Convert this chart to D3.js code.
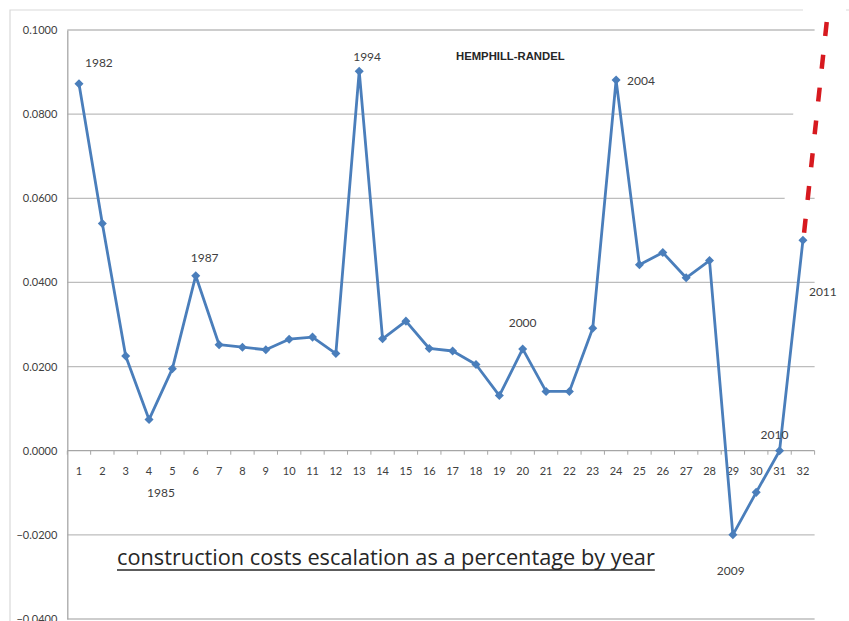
<!DOCTYPE html>
<html>
<head>
<meta charset="utf-8">
<script src="https://cdn.jsdelivr.net/npm/d3@7"></script>
<style>
  html, body { margin: 0; padding: 0; background: #fff; }
  svg { display: block; font-family: Lato, "Open Sans", sans-serif; }
</style>
</head>
<body>
<svg id="chart" width="849" height="621"></svg>
<script>
// Annual escalation index, points 1..32 (1982..2011)
const periods = d3.range(1, 33);
const escalation = [
  0.0872, 0.0540, 0.0225, 0.0074, 0.0195, 0.0416, 0.0252, 0.0246, 0.0240, 0.0265,
  0.0270, 0.0231, 0.0902, 0.0266, 0.0308, 0.0243, 0.0237, 0.0205, 0.0131, 0.0242,
  0.0141, 0.0141, 0.0291, 0.0881, 0.0442, 0.0471, 0.0411, 0.0452, -0.0200, -0.0099,
  0.0000, 0.0500
];
const yTicks = [0.10, 0.08, 0.06, 0.04, 0.02, 0.00, -0.02, -0.04];

// Year callouts: period, year text, placement
const callouts = [
  { p: 1,  text: "1982", dx: 6,   dy: -17 },
  { p: 4,  text: "1985", dx: -2,  dy: 77 },
  { p: 6,  text: "1987", dx: -5,  dy: -14 },
  { p: 13, text: "1994", dx: -6,  dy: -10 },
  { p: 20, text: "2000", dx: -14, dy: -22 },
  { p: 24, text: "2004", dx: 11,  dy: 5 },
  { p: 29, text: "2009", dx: -16, dy: 40 },
  { p: 31, text: "2010", dx: -19, dy: -12 },
  { p: 32, text: "2011", dx: 6,   dy: 56 }
];
// Projected continuation beyond the last point
const projection = [ { p: 32.05, v: 0.0518 }, { p: 33.05, v: 0.1035 } ];

const svg = d3.select("#chart");
const plotLeft = 67.3, plotRight = 814.6, plotTop = 30, plotBottom = 619;

const x = d3.scaleLinear().domain([0.5, 32.5]).range([plotLeft, plotRight]);
const y = d3.scaleLinear().domain([-0.04, 0.10]).range([plotBottom, plotTop]);

// outer frame
svg.append("path")
  .attr("d", `M10,621 L10,10 L803,10 M846,10 L849,10`)
  .attr("fill", "none").attr("stroke", "#d9d9d9").attr("stroke-width", 1.2);

// horizontal gridlines
svg.append("g").selectAll("line").data(yTicks.filter(d => d !== 0)).join("line")
  .attr("x1", plotLeft).attr("x2", plotRight)
  .attr("y1", d => y(d)).attr("y2", d => y(d))
  .attr("stroke", "#bdbdbd").attr("stroke-width", 1.3);

// value axis
const yAxis = svg.append("g").attr("transform", `translate(${plotLeft},0)`)
  .call(d3.axisLeft(y).tickValues(yTicks).tickFormat(d3.format(".4f")).tickSize(0).tickPadding(10));
yAxis.select(".domain").attr("stroke", "#a6a6a6").attr("stroke-width", 1.3);
yAxis.selectAll("text").attr("font-size", 11).attr("fill", "#404040")
  .attr("font-family", "Lato, sans-serif");

// category axis on the zero line
const xAxisG = svg.append("g").attr("transform", `translate(0,${y(0)})`);
xAxisG.append("line").attr("x1", plotLeft).attr("x2", plotRight)
  .attr("stroke", "#a6a6a6").attr("stroke-width", 1.3);
xAxisG.selectAll(".tk").data(d3.range(0, 33)).join("line")
  .attr("class", "tk")
  .attr("x1", d => x(d + 0.5)).attr("x2", d => x(d + 0.5))
  .attr("y1", 0).attr("y2", 4)
  .attr("stroke", "#a6a6a6").attr("stroke-width", 1);
xAxisG.selectAll(".lbl").data(periods).join("text")
  .attr("class", "lbl")
  .attr("x", d => x(d)).attr("y", 24)
  .attr("text-anchor", "middle")
  .attr("font-size", 11).attr("fill", "#404040")
  .text(d => d);

// mask band beside the projection line
const px = projection.map(d => x(d.p)), py = projection.map(d => y(d.v));
svg.append("line")
  .attr("x1", px[0] - 8).attr("y1", py[0] - 28)
  .attr("x2", px[0] + (px[1] - px[0]) * 0.89 - 12).attr("y2", py[0] + (py[1] - py[0]) * 0.89)
  .attr("stroke", "#fff").attr("stroke-width", 24);

// series line
const line = d3.line().x((d, i) => x(periods[i])).y(d => y(d));
svg.append("path").datum(escalation)
  .attr("d", line)
  .attr("fill", "none").attr("stroke", "#4a7ebb").attr("stroke-width", 2.8)
  .attr("stroke-linejoin", "round");

// diamond markers
svg.append("g").selectAll("path").data(escalation).join("path")
  .attr("d", d3.symbol(d3.symbolDiamond2, 52))
  .attr("transform", (d, i) => `translate(${x(periods[i])},${y(d)})`)
  .attr("fill", "#4a7ebb");

// projection line
svg.append("line")
  .attr("x1", px[0]).attr("y1", py[0])
  .attr("x2", px[1]).attr("y2", py[1])
  .attr("stroke", "#d7191f").attr("stroke-width", 4.5)
  .attr("stroke-dasharray", "14 19");

// year callouts
svg.append("g").selectAll("text").data(callouts).join("text")
  .attr("x", d => x(d.p) + d.dx)
  .attr("y", d => y(escalation[d.p - 1]) + d.dy)
  .attr("font-size", 12).attr("fill", "#404040")
  .text(d => d.text);

// series name
svg.append("text")
  .attr("x", 456).attr("y", 60)
  .attr("font-size", 11.3).attr("font-weight", "bold").attr("fill", "#262626")
  .attr("font-family", "'Liberation Sans', Arial, sans-serif")
  .text("HEMPHILL-RANDEL");

// caption
const cap = svg.append("text")
  .attr("x", 117).attr("y", 565)
  .attr("font-size", 22).attr("fill", "#262626")
  .attr("font-family", "'Open Sans', sans-serif")
  .text("construction costs escalation as a percentage by year");
const w = cap.node().getComputedTextLength();
cap.attr("font-size", 22 * 538 / w);
const w2 = cap.node().getComputedTextLength();
svg.append("line")
  .attr("x1", 117).attr("x2", 117 + w2)
  .attr("y1", 570).attr("y2", 570)
  .attr("stroke", "#262626").attr("stroke-width", 1.4);
</script>
</body>
</html>
